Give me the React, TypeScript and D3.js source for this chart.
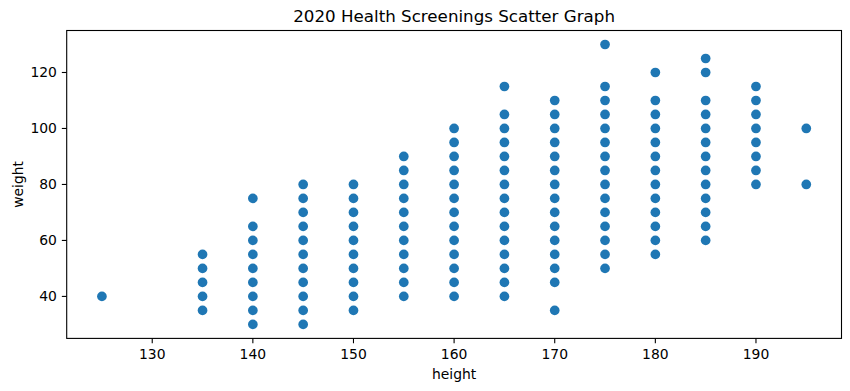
import React from "react";
import * as d3 from "d3";

const TITLE = "2020 Health Screenings Scatter Graph";
const X_LABEL = "height";
const Y_LABEL = "weight";
const X_TICKS = [130, 140, 150, 160, 170, 180, 190];
const Y_TICKS = [40, 60, 80, 100, 120];

// weights observed at each height
const HEIGHTS = [125, 135, 140, 145, 150, 155, 160, 165, 170, 175, 180, 185, 190, 195];
const WEIGHTS: number[][] = [
  [40],
  [35, 40, 45, 50, 55],
  [30, 35, 40, 45, 50, 55, 60, 65, 75],
  [30, 35, 40, 45, 50, 55, 60, 65, 70, 75, 80],
  [35, 40, 45, 50, 55, 60, 65, 70, 75, 80],
  [40, 45, 50, 55, 60, 65, 70, 75, 80, 85, 90],
  [40, 45, 50, 55, 60, 65, 70, 75, 80, 85, 90, 95, 100],
  [40, 45, 50, 55, 60, 65, 70, 75, 80, 85, 90, 95, 100, 105, 115],
  [35, 45, 50, 55, 60, 65, 70, 75, 80, 85, 90, 95, 100, 105, 110],
  [50, 55, 60, 65, 70, 75, 80, 85, 90, 95, 100, 105, 110, 115, 130],
  [55, 60, 65, 70, 75, 80, 85, 90, 95, 100, 105, 110, 120],
  [60, 65, 70, 75, 80, 85, 90, 95, 100, 105, 110, 120, 125],
  [80, 85, 90, 95, 100, 105, 110, 115],
  [80, 100],
];

const W = 850;
const H = 391;
const LEFT = 66.7;
const RIGHT = 841.5;
const TOP = 30.5;
const BOTTOM = 338.4;
const FONT = "DejaVu Sans, sans-serif";

export default function App() {
  const points: { x: number; y: number }[] = [];
  HEIGHTS.forEach((h, i) => WEIGHTS[i].forEach((w) => points.push({ x: h, y: w })));

  const xExt = d3.extent(points, (d) => d.x) as [number, number];
  const yExt = d3.extent(points, (d) => d.y) as [number, number];
  const xPad = (xExt[1] - xExt[0]) * 0.05;
  const yPad = (yExt[1] - yExt[0]) * 0.05;
  const x = d3.scaleLinear().domain([xExt[0] - xPad, xExt[1] + xPad]).range([LEFT, RIGHT]);
  const y = d3.scaleLinear().domain([yExt[0] - yPad, yExt[1] + yPad]).range([BOTTOM, TOP]);

  const tickLen = 4.86;
  const cx = (LEFT + RIGHT) / 2;
  const cy = (TOP + BOTTOM) / 2;

  return (
    <svg
      width={W}
      height={H}
      style={{ position: "absolute", left: 0, top: 0, background: "#fff" }}
      fontFamily={FONT}
    >
      <rect x={0} y={0} width={W} height={H} fill="#fff" />
      <g>
        {points.map((p, i) => (
          <circle key={i} cx={x(p.x)} cy={y(p.y)} r={4.85} fill="#1f77b4" />
        ))}
      </g>
      <rect
        x={LEFT}
        y={TOP}
        width={RIGHT - LEFT}
        height={BOTTOM - TOP}
        fill="none"
        stroke="#000"
        strokeWidth={1.1}
      />
      {X_TICKS.map((t) => (
        <g key={"x" + t}>
          <line x1={x(t)} x2={x(t)} y1={BOTTOM} y2={BOTTOM + tickLen} stroke="#000" strokeWidth={1.1} />
          <text x={x(t)} y={BOTTOM + tickLen + 4.9 + 10.6} textAnchor="middle" fontSize={13.9} fill="#000">
            {t}
          </text>
        </g>
      ))}
      {Y_TICKS.map((t) => (
        <g key={"y" + t}>
          <line x1={LEFT - tickLen} x2={LEFT} y1={y(t)} y2={y(t)} stroke="#000" strokeWidth={1.1} />
          <text
            x={LEFT - tickLen - 4.9}
            y={y(t)}
            dy="0.36em"
            textAnchor="end"
            fontSize={13.9}
            fill="#000"
          >
            {t}
          </text>
        </g>
      ))}
      <text x={cx} y={379} textAnchor="middle" fontSize={13.9} fill="#000">
        {X_LABEL}
      </text>
      <text
        transform={`translate(${22.5},${cy}) rotate(-90)`}
        textAnchor="middle"
        fontSize={13.9}
        fill="#000"
      >
        {Y_LABEL}
      </text>
      <text x={cx} y={TOP - 8.3} textAnchor="middle" fontSize={16.7} fill="#000">
        {TITLE}
      </text>
    </svg>
  );
}
